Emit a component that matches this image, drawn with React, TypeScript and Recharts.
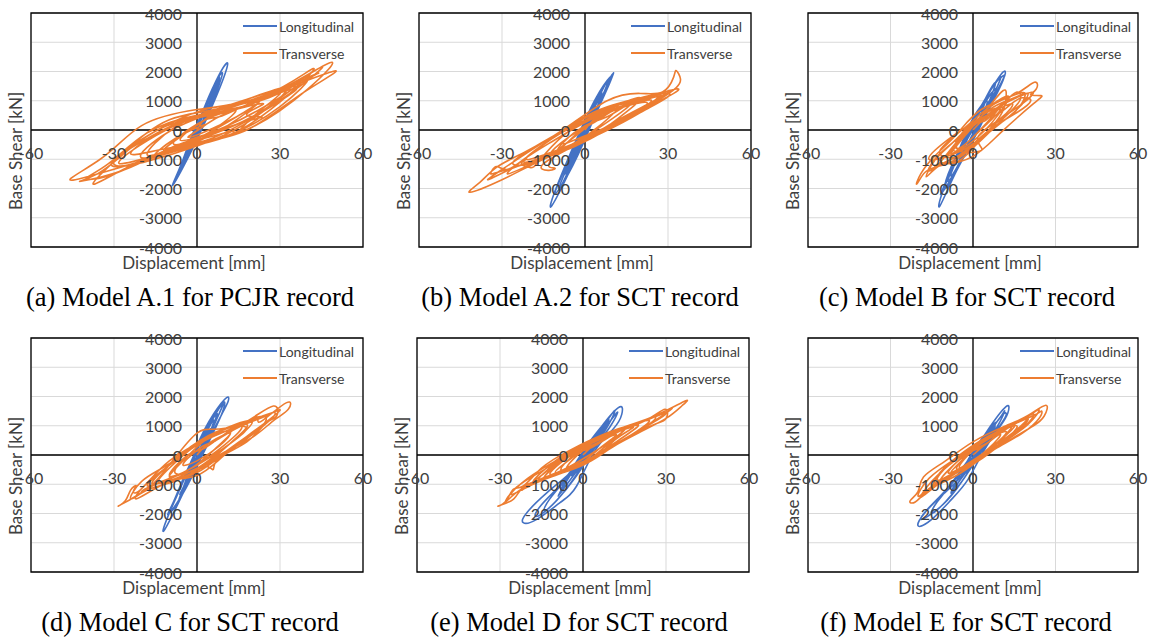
import React from 'react';
import {
  LineChart,
  Line,
  XAxis,
  YAxis,
  CartesianGrid,
  ReferenceLine,
  ReferenceArea
} from 'recharts';

type Pt = [number, number];

const xTicks = [-60, -30, 0, 30, 60];
const yTicks = [-4000, -3000, -2000, -1000, 0, 1000, 2000, 3000, 4000];
const seriesNames = ['Longitudinal', 'Transverse'];
const captions = [
  '(a) Model A.1 for PCJR record',
  '(b) Model A.2 for SCT record',
  '(c) Model B for SCT record',
  '(d) Model C for SCT record',
  '(e) Model D for SCT record',
  '(f) Model E for SCT record'
];

// displacement [mm], base shear [kN]
const aLong: Pt[] = [
  [0, 0], [2, 500], [4, 900], [3, 450], [0.5, -150], [-3, -600], [-1.5, -250], [2, 500], [7, 1500], [5.5, 1050],
  [1.5, 100], [-6, -1300], [-4.5, -1050], [0.5, 200], [6, 1500], [10.8, 2290], [9.5, 1750], [4, 500], [-3, -900],
  [-8.7, -1880], [-6.5, -1350], [-1, -100], [5, 1300], [9, 1950], [8, 1550], [2.5, 250], [-7, -1550], [-5, -1150],
  [0, 150], [6, 1350], [4.5, 850], [-1, -350], [-4, -950], [-2.5, -600], [1.5, 350], [3, 750], [1.5, 150], [-2, -450],
  [-0.5, 0], [1, 300], [5, 1100], [8, 1800], [7, 1400], [3, 500], [-2, -500], [-6, -1400], [-7.5, -1600], [-5, -1000],
  [-1, 0], [4, 1000], [7.5, 1700], [6, 1200], [1, 0], [-4, -1000], [-2, -400], [0.5, 100]
];
const aTran: Pt[] = [
  [0, 0], [5, 500], [14, 700], [8, 150], [-2, -400], [-12, -700], [-4, -100], [8, 600], [22, 1000], [15, 400],
  [0, -400], [-20, -950], [-10, -50], [10, 750], [32, 1450], [22, 500], [0, -550], [-30, -1250], [-18, -200], [5, 750],
  [25, 1150], [48, 2300], [40, 1400], [20, 100], [-5, -650], [-44, -1700], [-35, -1000], [-20, 150], [0, 700],
  [25, 1200], [42, 2100], [33, 1200], [10, -250], [-15, -850], [-37, -1850], [-28, -900], [-10, 350], [15, 900],
  [49, 2000], [38, 1250], [18, 0], [-5, -600], [-28, -1150], [-15, -200], [5, 650], [25, 1150], [40, 1750], [30, 800],
  [12, -150], [-5, -550], [-18, -850], [-8, 100], [10, 800], [30, 1350], [22, 600], [15, -50], [13, -150], [10, -100],
  [-8, -500], [0, 200], [12, 650], [24, 900], [18, 550], [23, 450], [20, 350], [8, 0], [-6, -350], [2, 300], [8, 450],
  [20, 950], [30, 1300], [38, 1700], [44, 1950], [36, 1500], [20, 450], [0, -350], [-20, -1100], [-33, -1600],
  [-40, -1650], [-32, -1150], [-18, -100], [0, 500], [18, 850], [35, 1500], [28, 1000], [10, 100], [-10, -650],
  [-25, -1200], [-30, -1050], [-20, -400], [-5, 300], [12, 650], [28, 1200], [36, 1400], [25, 700], [5, -300],
  [-12, -650], [-24, -800], [-12, 0], [4, 500], [20, 850], [10, 250], [-3, -250], [2, 100], [10, 550], [26, 1100],
  [34, 1500], [45, 2150], [40, 1700], [28, 900], [12, 100], [-8, -550], [-26, -1350], [-42, -1750], [-36, -1500],
  [-25, -700], [-12, 100], [5, 600], [22, 1000], [16, 550], [2, -200], [-15, -900], [-8, -300], [3, 200]
];

const bLong: Pt[] = [
  [0, 0], [2, 400], [4, 800], [2.5, 300], [-1, -300], [-4, -800], [-2.5, -500], [1, 300], [6, 1200], [4.5, 800],
  [0, -200], [-7, -1400], [-5.5, -1200], [-0.5, 100], [5, 1200], [9.5, 1850], [10.2, 1915], [8, 1400], [2, 150],
  [-5, -1300], [-12, -2590], [-10.5, -2000], [-3, -300], [4, 1100], [9, 1800], [7.5, 1400], [1, -100], [-6, -1500],
  [-10.8, -2190], [-9, -1700], [-2, -200], [5, 1200], [8, 1600], [6, 1100], [0, -150], [-5, -1200], [-3.5, -900],
  [1, 200], [4, 800], [2.5, 350], [-1.5, -400], [-3, -600], [-1, -100], [1, 200], [4, 900], [7, 1500], [8.5, 1700],
  [6.5, 1200], [1, 0], [-4, -1000], [-8, -1800], [-9.5, -2000], [-7, -1400], [-2, -300], [3, 800], [6, 1300],
  [4, 700], [-1, -300], [-3, -700], [-1, -100]
];
const bTran: Pt[] = [
  [0, 0], [5, 500], [12, 800], [6, 200], [-3, -400], [-10, -700], [-2, -100], [8, 650], [20, 1100], [12, 400],
  [0, -300], [-18, -950], [-21, -1000], [-23, -1150], [-20, -1280], [-17, -1100], [-8, -200], [8, 700], [26, 1200],
  [18, 550], [2, -300], [-10, -800], [-30, -1400], [-34, -1450], [-32, -1250], [-28, -1350], [-20, -850], [-5, 150],
  [10, 850], [30, 1250], [22, 700], [5, -150], [-15, -1000], [-30, -1700], [-41.6, -2130], [-38, -1790],
  [-32, -1277], [-22, -764], [-8, 0], [8, 1000], [20, 1250], [28, 1300], [32, 1800], [33, 2030], [34.5, 1750],
  [33, 1450], [27, 1050], [15, 400], [0, -350], [-15, -1150], [-13, -1380], [-11, -1300], [-13, -1150], [-5, -300],
  [10, 650], [33, 1400], [25, 900], [10, 200], [-5, -500], [-22, -1100], [-12, -300], [5, 500], [22, 950], [15, 400],
  [0, -200], [-8, -450], [0, 150], [8, 450], [18, 1000], [27, 1250], [31, 1350], [25, 1000], [12, 350], [-2, -400],
  [-16, -950], [-26, -1300], [-35, -1700], [-30, -1350], [-18, -600], [-4, 200], [10, 800], [22, 1050], [28, 1150],
  [20, 600], [6, -100], [-8, -700], [-20, -1150], [-26, -1100], [-16, -450], [-2, 250], [14, 800], [24, 1000],
  [14, 350], [0, -300], [-12, -800], [-6, -250], [4, 300], [12, 750], [24, 1150], [29, 1200], [22, 800], [8, 100],
  [-6, -600], [-18, -1100], [-28, -1500], [-22, -1000], [-12, -400], [2, 350], [16, 900], [10, 400], [-2, -350],
  [-10, -700], [-4, -100], [2, 200]
];

const cLong: Pt[] = [
  [0, 0], [3, 500], [6, 1000], [4, 500], [0, -300], [-4, -800], [-3, -400], [1, 400], [8, 1400], [6, 900], [1, 0],
  [-6, -1300], [-8, -1500], [-5, -800], [0, 300], [6, 1300], [10.8, 1970], [11.5, 1850], [8, 1200], [2, 0],
  [-6, -1400], [-12, -2590], [-11, -2100], [-5, -800], [2, 600], [7, 1500], [9, 1700], [11.4, 1860], [9, 1300],
  [3, 200], [-5, -1200], [-11.4, -2166], [-10, -1800], [-4, -500], [3, 800], [8, 1600], [6, 1000], [0, -300],
  [-7, -1500], [-9, -1700], [-6, -900], [0, 400], [5, 1000], [3, 400], [-2, -500], [-5, -1000], [-2, -300], [2, 300],
  [5, 1100], [9, 1700], [10, 1750], [7, 1100], [1, -100], [-6, -1400], [-10, -2000], [-9, -1500], [-3, -300],
  [3, 700], [7, 1300], [5, 700], [-1, -300], [-4, -900], [-2, -300], [1, 200]
];
const cTran: Pt[] = [
  [0, 0], [5, 450], [10, 700], [5, 200], [-3, -500], [-8, -800], [-2, -100], [5, 700], [11, 1350], [12, 1100],
  [10, 500], [3, -300], [-5, -1050], [-12, -1150], [-14, -1300], [-11, -1000], [-4, -200], [6, 700], [15, 1100],
  [20, 1250], [16, 700], [5, -150], [-5, -950], [-14, -1280], [-18, -1500], [-20.5, -1850], [-19, -1500],
  [-14, -900], [-6, -150], [3, 700], [15, 1200], [22.3, 1630], [23, 1400], [21, 1200], [24.7, 1174], [22, 900],
  [10, -100], [0, -900], [-10, -1150], [-12, -950], [-9, -850], [-2, 100], [8, 900], [16, 1230], [19, 1200],
  [15, 600], [5, -100], [-4, -700], [-16, -1000], [-8, -250], [3, 400], [14, 900], [10, 400], [2, -200], [3, -600],
  [1, -750], [-6, -600], [0, 200], [8, 500], [14, 900], [18, 1100], [21, 1000], [16, 600], [6, 0], [-4, -800],
  [-10, -1100], [-16, -1400], [-13, -900], [-5, -250], [5, 500], [12, 1000], [16, 1300], [17, 1000], [10, 300],
  [0, -600], [-8, -950], [-12, -700], [-4, 0], [6, 800], [13, 1150], [9, 500], [1, -300], [-7, -700], [-2, 100],
  [4, 300], [10, 800], [17, 1150], [22, 1300], [18, 900], [8, 200], [-2, -700], [-12, -1200], [-17, -1600],
  [-14, -1050], [-7, -400], [2, 400], [9, 750], [5, 250], [-3, -500], [-6, -550], [0, 150]
];

const dLong: Pt[] = [
  [0, 0], [3, 500], [5, 900], [3.5, 400], [0, -300], [-4, -800], [-2.5, -400], [1, 400], [7, 1400], [5.5, 900],
  [1, 0], [-6, -1400], [-4.5, -1000], [0, 300], [6, 1400], [10.7, 1960], [11.3, 1847], [9, 1400], [3, 300],
  [-4, -1100], [-11.6, -2540], [-10.5, -2100], [-4, -700], [2, 600], [8, 1600], [10, 1800], [8.5, 1300], [2, 0],
  [-5, -1300], [-10.4, -2030], [-8.5, -1600], [-3, -400], [4, 1000], [7, 1400], [5, 800], [-1, -400], [-6, -1300],
  [-4.5, -1000], [0, 200], [4, 900], [2.5, 400], [-1.5, -300], [-3, -600], [-1, -100], [1, 200], [5, 1100],
  [8, 1600], [9.5, 1750], [7, 1200], [1, -100], [-5, -1300], [-9, -1900], [-8, -1500], [-2, -200], [3, 700],
  [6, 1200], [4, 600], [-1, -300], [-4, -900], [-2, -300], [1, 200]
];
const dTran: Pt[] = [
  [0, 0], [5, 450], [12, 750], [7, 250], [-2, -450], [-10, -750], [-4, -100], [6, 700], [18, 1050], [12, 400],
  [2, -400], [-8, -850], [-15, -1000], [-20, -1250], [-16, -1000], [-8, -100], [0, 750], [6, 880], [14, 1000],
  [22, 1300], [25, 1200], [20, 700], [10, 0], [0, -700], [-12, -900], [-22, -1400], [-28.4, -1744], [-26, -1573],
  [-24, -1200], [-22, -1050], [-23, -1250], [-20, -1150], [-10, -200], [5, 600], [18, 1150], [27.6, 1676],
  [28.8, 1334], [25, 1100], [18, 450], [8, -100], [5.9, -490], [4, -400], [0, -500], [-10, -800], [-18, -1050],
  [-10, -350], [3, 500], [15, 1000], [21, 1300], [22, 1200], [24, 1200], [32.4, 1790], [33, 1562], [28, 1200],
  [20, 600], [10, 100], [-2, -550], [-14, -950], [-6, -100], [4, 600], [12, 800], [8, 300], [0, -200], [-5, -300],
  [2, 300], [6, 450], [14, 900], [24, 1300], [30, 1550], [26, 1200], [16, 500], [4, -300], [-8, -900], [-18, -1200],
  [-24, -1500], [-20, -900], [-10, -300], [2, 500], [14, 1050], [20, 1150], [16, 700], [6, 0], [-6, -650],
  [-16, -1000], [-12, -500], [-2, 300], [10, 900], [18, 900], [10, 250], [0, -450], [-8, -600], [-3, 0], [3, 250],
  [12, 850], [20, 1200], [28, 1450], [24, 1000], [12, 200], [0, -600], [-12, -1000], [-22, -1500], [-18, -950],
  [-8, -200], [4, 650], [16, 1000], [10, 350], [-2, -450], [-10, -700], [-4, -50], [2, 200]
];

const eLong: Pt[] = [
  [0, 0], [3, 400], [6, 800], [4, 350], [0, -300], [-4, -700], [-2.5, -300], [2, 400], [9, 1200], [7, 800], [2, 0],
  [-5, -900], [-9, -1400], [-6, -900], [-1, -150], [5, 750], [12.8, 1620], [14, 1390], [11, 900], [4, 100],
  [-2.3, -1060], [-8.3, -1630], [-16.7, -2200], [-21.6, -2314], [-20.3, -1972], [-13, -1288], [-5.9, -718],
  [0, -100], [6, 700], [11, 1300], [12.5, 1450], [10, 1000], [4, 200], [-3, -800], [-10, -1600], [-14, -1900],
  [-12, -1500], [-6, -800], [0, 0], [7, 900], [9, 1100], [7, 700], [1, -100], [-5, -900], [-8, -1200], [-5, -650],
  [0, 100], [4, 500], [2, 150], [-1.5, -250], [-3, -500], [-1, -100], [1, 150], [6, 800], [10, 1350], [11.5, 1500],
  [9, 1000], [3, 100], [-4, -900], [-11, -1700], [-17, -2100], [-15, -1700], [-8, -1000], [-2, -200], [5, 700],
  [8, 1000], [5, 500], [-1, -300], [-4, -700], [-1, -50]
];
const eTran: Pt[] = [
  [0, 0], [5, 400], [12, 700], [7, 300], [-2, -350], [-10, -600], [-4, -100], [6, 550], [18, 950], [12, 550],
  [2, -250], [-12, -750], [-18, -900], [-10, -200], [2, 450], [14, 900], [26, 1300], [20, 800], [8, 200], [-5, -500],
  [-20, -1000], [-25, -1500], [-30.6, -1744], [-28.2, -1607], [-25.2, -1174], [-21.6, -1060], [-15, -450],
  [-5, 150], [10, 800], [25, 1300], [36.9, 1847], [35.7, 1676], [30, 1250], [20, 750], [8, 150], [-5, -450],
  [-16, -850], [-22, -1200], [-15, -700], [-5, 0], [8, 650], [22, 1150], [29.6, 1562], [30.2, 1277], [26, 1050],
  [15, 550], [3, -200], [-8, -600], [-14, -750], [-6, -100], [5, 500], [15, 900], [10, 450], [0, -300], [-6, -450],
  [0, 150], [6, 450], [16, 950], [24, 1250], [32, 1600], [28, 1300], [18, 700], [6, 0], [-6, -550], [-18, -1000],
  [-26, -1350], [-20, -800], [-8, -100], [6, 600], [18, 1050], [24, 1150], [16, 600], [4, -50], [-8, -550],
  [-16, -850], [-10, -300], [2, 350], [14, 850], [20, 1000], [12, 450], [0, -250], [-8, -500], [-2, 100], [3, 250],
  [12, 750], [22, 1150], [30, 1450], [26, 1150], [14, 500], [2, -200], [-10, -700], [-22, -1150], [-28, -1600],
  [-24, -1100], [-14, -500], [0, 300], [14, 850], [8, 350], [-4, -350], [-12, -650], [-5, -50], [2, 200]
];

const fLong: Pt[] = [
  [0, 0], [3, 400], [6, 800], [4, 350], [0, -300], [-4, -700], [-2.5, -300], [2, 400], [8, 1100], [6.5, 750],
  [2, 0], [-5, -900], [-8, -1300], [-5.5, -800], [-1, -100], [5, 800], [12, 1653], [12.7, 1448], [10, 1000],
  [4, 150], [-1.8, -832], [-7.8, -1516], [-15, -2200], [-19.9, -2428], [-17.5, -1972], [-10.2, -1288],
  [-4.2, -718], [1, 0], [7, 900], [11, 1400], [12, 1350], [9, 900], [3, 100], [-4, -900], [-11, -1700],
  [-18.7, -2200], [-16, -1800], [-9, -1100], [-2, -200], [5, 700], [8, 1000], [6, 600], [0, -200], [-5, -900],
  [-7, -1100], [-4, -550], [0, 100], [4, 500], [2, 150], [-1.5, -250], [-3, -500], [-1, -100], [1, 150], [6, 800],
  [10, 1300], [11.5, 1500], [9, 1000], [3, 100], [-4, -900], [-10, -1600], [-15, -2000], [-13, -1600], [-7, -900],
  [-1, -100], [5, 700], [8, 1000], [5, 500], [-1, -300], [-4, -700], [-1, -50]
];
const fTran: Pt[] = [
  [0, 0], [5, 400], [10, 700], [6, 250], [-2, -350], [-8, -600], [-3, -100], [6, 600], [15, 1000], [10, 500],
  [2, -150], [-10, -800], [-14, -900], [-8, -250], [2, 450], [12, 950], [20, 1300], [15, 800], [6, 200], [-5, -550],
  [-16, -1200], [-21, -1607], [-22.9, -1573], [-20, -1250], [-18, -750], [-10, -200], [0, 450], [12, 1000],
  [20, 1350], [26.5, 1700], [25.9, 1334], [22, 1000], [14, 550], [4, -50], [-6, -700], [-16.3, -1174],
  [-18, -1350], [-15, -1100], [-12, -600], [-2, 200], [10, 850], [22, 1350], [25, 1500], [24, 1250], [18, 750],
  [8, 200], [-4, -500], [-12, -900], [-6, -250], [4, 450], [12, 800], [8, 350], [0, -250], [-5, -400], [0, 150],
  [5, 400], [12, 900], [18, 1200], [24, 1550], [20, 1050], [12, 500], [2, -200], [-8, -700], [-16, -1150],
  [-20, -1400], [-16, -800], [-6, -100], [6, 650], [16, 1150], [20, 1200], [14, 650], [4, 0], [-6, -550],
  [-13, -850], [-8, -250], [2, 400], [12, 900], [16, 950], [10, 400], [0, -250], [-6, -450], [-1, 100], [3, 250],
  [10, 750], [16, 1100], [22, 1400], [18, 900], [8, 250], [-3, -450], [-12, -950], [-19, -1450], [-15, -900],
  [-6, -150], [5, 550], [14, 1000], [9, 450], [-2, -300], [-9, -600], [-3, 0], [2, 200]
];

const BLUE = '#4472C4';
const ORANGE = '#ED7D31';
const TEXT = '#404040';
const FONT = 'Lato, "Open Sans", sans-serif';
const M = 24;

const toRows = (pts: Pt[]) => pts.map(([x, y]) => ({ x, y }));

interface PanelProps {
  left: number;
  top: number;
  w: number;
  h: number;
  long: Pt[];
  tran: Pt[];
  caption: string;
  capX: number;
}

const Panel: React.FC<PanelProps> = ({ left, top, w, h, long, tran, caption, capX }) => {
  const x0 = M + w / 2;
  const y0 = M + h / 2;

  const XTick = (p: any) => (
    <text x={p.x} y={y0 + 22} textAnchor="middle" dominantBaseline="central"
      fontSize={16} fill={TEXT} fontFamily={FONT}>{p.payload.value}</text>
  );
  const YTick = (p: any) => (
    <text x={x0 - 15} y={p.y} textAnchor="end" dominantBaseline="central"
      fontSize={16} fill={TEXT} fontFamily={FONT}>{p.payload.value}</text>
  );

  return (
    <>
      <div style={{ position: 'absolute', left: left - M, top: top - M }}>
        <LineChart width={w + 2 * M} height={h + 2 * M} margin={{ top: M, right: M, bottom: M - 1, left: M - 1 }}>
          <CartesianGrid stroke="#d9d9d9" strokeWidth={1} />
          <ReferenceArea x1={-60} x2={60} y1={-4000} y2={4000} fill="none" fillOpacity={0}
            stroke="#000" strokeWidth={1.3} strokeOpacity={1} zIndex={-50} />
          <ReferenceLine x={0} stroke="#000" strokeWidth={1.3} zIndex={-50} />
          <ReferenceLine y={0} stroke="#000" strokeWidth={1.3} zIndex={-50} />
          <XAxis type="number" dataKey="x" domain={[-60, 60]} ticks={xTicks} interval={0} height={1}
            axisLine={false} tickLine={false} tick={XTick} allowDataOverflow />
          <YAxis type="number" dataKey="y" domain={[-4000, 4000]} ticks={yTicks} interval={0} width={1}
            axisLine={false} tickLine={false} tick={YTick} allowDataOverflow />
          <Line data={toRows(long)} dataKey="y" name={seriesNames[0]} type="natural"
            stroke={BLUE} strokeWidth={1.6} dot={false} isAnimationActive={false} />
          <Line data={toRows(tran)} dataKey="y" name={seriesNames[1]} type="natural"
            stroke={ORANGE} strokeWidth={1.6} dot={false} isAnimationActive={false} />
        </LineChart>
      </div>

      {/* legend */}
      {seriesNames.map((name, i) => (
        <div key={name} style={{
          position: 'absolute', left: left + 212, top: top + 4 + i * 27, height: 18,
          display: 'flex', alignItems: 'center', fontFamily: FONT, fontSize: 14, color: TEXT
        }}>
          <span style={{ width: 34, height: 2, background: i === 0 ? BLUE : ORANGE, marginRight: 2 }} />
          {name}
        </div>
      ))}

      {/* axis titles */}
      <div style={{
        position: 'absolute', left: left - 16, top: top + 138, transform: 'translate(-50%, -50%) rotate(-90deg)',
        whiteSpace: 'nowrap', fontFamily: FONT, fontSize: 17, color: TEXT
      }}>Base Shear [kN]</div>
      <div style={{
        position: 'absolute', left: left + w / 2 - 3, top: top + h + 15, transform: 'translate(-50%, -50%)',
        whiteSpace: 'nowrap', fontFamily: FONT, fontSize: 17, color: TEXT
      }}>Displacement [mm]</div>

      {/* caption */}
      <div style={{
        position: 'absolute', left: capX, top: top + 284, transform: 'translate(-50%, -50%)',
        whiteSpace: 'nowrap', fontFamily: '"Liberation Serif", "Times New Roman", serif', fontSize: 26.5, color: '#000'
      }}>{caption}</div>
    </>
  );
};

const panels = [
  { left: 31, top: 13, w: 332, long: aLong, tran: aTran, capX: 190 },
  { left: 419, top: 13, w: 332, long: bLong, tran: bTran, capX: 580 },
  { left: 808, top: 13, w: 330, long: cLong, tran: cTran, capX: 967 },
  { left: 31, top: 338, w: 332, long: dLong, tran: dTran, capX: 190 },
  { left: 417, top: 338, w: 332, long: eLong, tran: eTran, capX: 579 },
  { left: 808, top: 338, w: 330, long: fLong, tran: fTran, capX: 966 }
];

export default function App() {
  return (
    <div style={{ position: 'absolute', left: 0, top: 0, width: 1149, height: 639, background: '#fff', overflow: 'hidden' }}>
      {panels.map((p, i) => (
        <Panel key={i} left={p.left} top={p.top} w={p.w} h={234} long={p.long} tran={p.tran}
          caption={captions[i]} capX={p.capX} />
      ))}
    </div>
  );
}
